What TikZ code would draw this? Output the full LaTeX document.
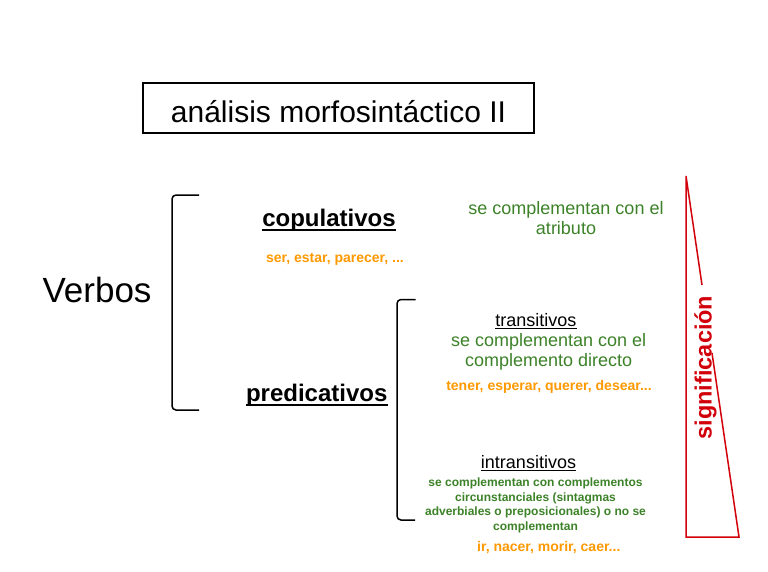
\documentclass[tikz,border=0pt]{standalone}
\usepackage{fontspec}
\setmainfont{Liberation Sans}
\definecolor{vgreen}{RGB}{60,130,40}
\definecolor{vorange}{RGB}{255,153,0}
\definecolor{vred}{RGB}{210,0,10}
\begin{document}
\begin{tikzpicture}[x=1pt,y=-1pt,
  txt/.style={inner sep=0pt,anchor=base,align=center},
  bracket/.style={line width=1.5pt,rounded corners=4pt},
  uline/.style={line width=1.6pt},
  ulinethin/.style={line width=1.1pt},
  heading/.style={txt,font=\bfseries\fontsize{24}{28}\selectfont},
  subhead/.style={txt,font=\fontsize{18}{20}\selectfont},
  example/.style={txt,text=vorange,font=\bfseries\fontsize{14}{16}\selectfont},
  gloss/.style={txt,text=vgreen,font=\fontsize{18}{20}\selectfont}]
\fill[white] (0,0) rectangle (768,571);
\path[use as bounding box] (0,0) rectangle (768,571);

% title
\node[draw,line width=1.5pt,minimum width=391pt,minimum height=50pt,inner sep=0pt,
  text height=28pt,text depth=0pt,font=\fontsize{30}{34}\selectfont] (title) at (338.5,108) {análisis morfosintáctico II};

% Verbos
\node[txt,font=\fontsize{35}{40}\selectfont] (verbos) at (97,302) {Verbos};
\draw[bracket] (199,195) -- (172,195) -- (172,410) -- (199,410);

% copulativos
\node[heading] (cop) at (329,226.7) {copulativos};
\draw[uline] ([yshift=-3.5pt]cop.base west) -- ([yshift=-3.5pt]cop.base east);
\node[example] (copex) at (335,262) {ser, estar, parecer, ...};
\node[gloss] (copgl) at (566,234) {se complementan con el\\atributo};

% predicativos
\node[heading] (pred) at (316.7,401.7) {predicativos};
\draw[uline] ([yshift=-3.5pt]pred.base west) -- ([yshift=-3.5pt]pred.base east);
\draw[bracket] (415.7,299.5) -- (397,299.5) -- (397,520) -- (415,520);

% transitivos
\node[subhead] (trans) at (535.8,326) {transitivos};
\draw[ulinethin] ([yshift=-2.5pt]trans.base west) -- ([yshift=-2.5pt]trans.base east);
\node[gloss] (transgl) at (548.7,366.7) {se complementan con el\\complemento directo};
\node[example] (transex) at (549,390.7) {tener, esperar, querer, desear...};

% intransitivos
\node[subhead] (intr) at (528.5,468.3) {intransitivos};
\draw[ulinethin] ([yshift=-2.5pt]intr.base west) -- ([yshift=-2.5pt]intr.base east);
\node[txt,text=vgreen,font=\bfseries\fontsize{12}{14.5}\selectfont] (intrgl) at (535.5,530.2)
  {se complementan con complementos\\circunstanciales (sintagmas\\adverbiales o preposicionales) o no se\\complementan};
\node[example] (intrex) at (548.8,551.7) {ir, nacer, morir, caer...};

% significacion triangle
\draw[vred,line width=1.5pt] (702,285) -- (686,176) -- (686,537) -- (739,537) -- (712,353);
\node[txt,rotate=90,text=vred,font=\bfseries\fontsize{23.5}{26}\selectfont] (sig) at (711.5,367.5) {significación};
\end{tikzpicture}
\end{document}
